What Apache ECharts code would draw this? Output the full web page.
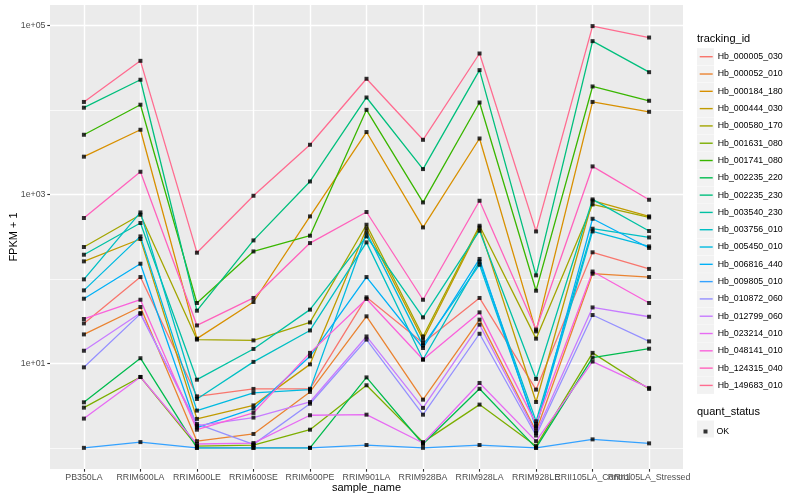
<!DOCTYPE html>
<html><head><meta charset="utf-8">
<script src="https://cdn.jsdelivr.net/npm/echarts@6/dist/echarts.min.js"></script>
<style>html,body{margin:0;padding:0;background:#fff}#c{width:800px;height:500px}</style>
</head><body><div id="c"></div>
<script>
// x categories
const categories = ['PB350LA','RRIM600LA','RRIM600LE','RRIM600SE','RRIM600PE','RRIM901LA','RRIM928BA','RRIM928LA','RRIM928LE','RRII105LA_Control','RRII105LA_Stressed'];
// legend / series names
const trackingIds = ['Hb_000005_030','Hb_000052_010','Hb_000184_180','Hb_000444_030','Hb_000580_170','Hb_001631_080','Hb_001741_080','Hb_002235_220','Hb_002235_230','Hb_003540_230','Hb_003756_010','Hb_005450_010','Hb_006816_440','Hb_009805_010','Hb_010872_060','Hb_012799_060','Hb_023214_010','Hb_048141_010','Hb_124315_040','Hb_149683_010'];
// FPKM + 1 values, one array per gene, in category order
const hb_000005_030 = [29.7, 105, 4.07, 4.98, 5.0, 60.4, 17.4, 59.4, 4.89, 206, 131];
const hb_000052_010 = [22.0, 46.4, 1.2, 1.46, 4.59, 36.0, 3.72, 32.9, 1.57, 115, 105];
const hb_000184_180 = [2790, 5810, 19.6, 53.2, 548, 5460, 406, 4580, 23.9, 12400, 9480];
const hb_000444_030 = [161, 296, 2.2, 3.18, 9.73, 392, 19.1, 406, 3.49, 840, 548];
const hb_000580_170 = [238, 574, 19.1, 18.7, 30.5, 437, 20.8, 425, 19.6, 760, 533];
const hb_001631_080 = [2.99, 6.9, 1.05, 1.08, 1.64, 5.5, 1.17, 3.25, 1.05, 13.3, 4.98];
const hb_001741_080 = [5070, 11500, 51.8, 211, 324, 10000, 802, 12200, 72.4, 18900, 12800];
const hb_002235_220 = [3.46, 11.5, 1.0, 1.0, 1.0, 6.82, 1.11, 5.0, 1.0, 11.7, 14.9];
const hb_002235_230 = [10600, 22700, 42, 285, 1420, 14000, 1990, 29500, 110, 65000, 27900];
const hb_003540_230 = [193, 458, 6.41, 14.8, 43.2, 318, 35.0, 371, 6.54, 871, 368];
const hb_003756_010 = [98.6, 611, 3.79, 10.4, 24.5, 270, 11.1, 160, 2.06, 392, 309];
const hb_005450_010 = [73.0, 318, 2.76, 4.47, 4.89, 352, 16.3, 147, 1.8, 364, 242];
const hb_006816_440 = [58.2, 151, 1.74, 2.91, 12.1, 105, 15.2, 172, 1.72, 514, 232];
const hb_009805_010 = [1.0, 1.17, 1.0, 1.0, 1.0, 1.08, 1.0, 1.08, 1.0, 1.26, 1.13];
const hb_010872_060 = [8.97, 38.5, 1.92, 1.1, 3.33, 19.1, 2.47, 22.4, 1.4, 37.3, 18.2];
const hb_012799_060 = [14.1, 39.4, 1.83, 2.28, 3.49, 20.8, 2.97, 28.7, 1.5, 45.9, 35.6];
const hb_023214_010 = [2.22, 6.9, 1.11, 1.14, 2.43, 2.47, 1.14, 5.86, 1.2, 10.5, 5.12];
const hb_048141_010 = [33.5, 56.6, 1.64, 2.59, 13.3, 57.8, 11.1, 40.1, 1.92, 122, 51.8];
const hb_124315_040 = [525, 1850, 28.1, 59.4, 265, 618, 56.6, 840, 25.1, 2140, 863];
const hb_149683_010 = [12400, 38000, 204, 962, 3860, 23300, 4420, 46400, 364, 97900, 71700];
// y axis labelled ticks and minor grid positions
const yTickValues = [10, 1000, 100000];
const yMinorValues = [1, 100, 10000];
const quantStatus = ['OK'];

const seriesValues = [hb_000005_030, hb_000052_010, hb_000184_180, hb_000444_030, hb_000580_170, hb_001631_080, hb_001741_080, hb_002235_220, hb_002235_230, hb_003540_230, hb_003756_010, hb_005450_010, hb_006816_440, hb_009805_010, hb_010872_060, hb_012799_060, hb_023214_010, hb_048141_010, hb_124315_040, hb_149683_010];
const palette = ['#F8766D','#EA8331','#D89000','#C09B00','#A3A500','#7CAE00','#39B600','#00BB4E','#00BF7D','#00C1A3','#00BFC4','#00BAE0','#00B0F6','#35A2FF','#9590FF','#C77CFF','#E76BF3','#FA62DB','#FF62BC','#FF6C90'];

const FONT = '"Liberation Sans", Arial, Helvetica, sans-serif';
const chart = echarts.init(document.getElementById('c'));

const expLabel = v => { const e = Math.round(Math.log10(v)); return '1e' + (e >= 0 ? '+' : '-') + String(Math.abs(e)).padStart(2, '0'); };
const catIdx = categories.map((c, i) => i);
const evenIdx = catIdx.filter(i => i % 2 === 0);
const oddIdx = catIdx.filter(i => i % 2 === 1);

const lineSeries = trackingIds.map((id, k) => ({
  name: id, type: 'line', xAxisIndex: 0, yAxisIndex: 0,
  data: seriesValues[k].map((v, i) => [i, v]),
  showSymbol: false, symbol: 'rect', symbolSize: 4,
  color: palette[k],
  lineStyle: { color: palette[k], width: 1.3 },
  itemStyle: { color: palette[k] },
  emphasis: { disabled: true }, z: 2, animation: false
}));
const pointData = [];
seriesValues.forEach(vals => vals.forEach((v, i) => pointData.push([i, v])));
const pointSeries = {
  name: quantStatus[0], type: 'scatter', xAxisIndex: 0, yAxisIndex: 0,
  data: pointData, symbol: 'rect', symbolSize: 4,
  itemStyle: { color: '#000000' }, emphasis: { disabled: true }, z: 3, animation: false
};

const ROW = 17.3, BOX_TOP = 48.2;
const graphics = [
  { type: 'text', left: 697, top: 33.5, style: { text: 'tracking_id', font: '11px ' + FONT, fill: '#000' }, silent: true },
  { type: 'text', left: 697, top: 406.5, style: { text: 'quant_status', font: '11px ' + FONT, fill: '#000' }, silent: true }
];
trackingIds.forEach((id, k) => graphics.push({ type: 'rect', z: -1, shape: { x: 697, y: BOX_TOP + k * ROW, width: 17, height: 17 }, style: { fill: '#F2F2F2' }, silent: true }));
graphics.push({ type: 'rect', z: -1, shape: { x: 697, y: 420.5, width: 17, height: 17 }, style: { fill: '#F2F2F2' }, silent: true });

const xLabelStyle = { formatter: v => categories[Math.round(v)], fontSize: 8.8, color: '#4D4D4D', margin: 4.5, fontFamily: FONT, hideOverlap: false, showMinLabel: true, showMaxLabel: true };

chart.setOption({
  animation: false,
  backgroundColor: '#ffffff',
  textStyle: { fontFamily: FONT },
  grid: { left: 50, top: 5, width: 633, height: 464, show: true, backgroundColor: '#EBEBEB', borderWidth: 0, containLabel: false, outerBoundsMode: 'none' },
  xAxis: [{
    type: 'value', min: -0.6, max: 10.6, position: 'bottom',
    name: 'sample_name', nameLocation: 'middle', nameGap: 13, nameMoveOverlap: false,
    nameTextStyle: { fontSize: 11, color: '#000', fontFamily: FONT },
    axisLine: { show: false, onZero: false },
    axisTick: { show: true, length: 2.7, customValues: catIdx, lineStyle: { color: '#333333', width: 1.1 } },
    axisLabel: Object.assign({ customValues: evenIdx }, xLabelStyle),
    splitLine: { show: true, lineStyle: { color: '#ffffff', width: 1.4 } },
    minorSplitLine: { show: false }
  }, {
    type: 'value', min: -0.6, max: 10.6, position: 'bottom', offset: 0,
    axisLine: { show: false, onZero: false },
    axisTick: { show: false, customValues: oddIdx },
    axisLabel: Object.assign({ customValues: oddIdx }, xLabelStyle),
    splitLine: { show: false }
  }],
  yAxis: [{
    type: 'log', logBase: 10, min: 0.562, max: 174000,
    name: 'FPKM + 1', nameLocation: 'middle', nameGap: 30.5, nameRotate: 90, nameMoveOverlap: false,
    nameTextStyle: { fontSize: 11, color: '#000', fontFamily: FONT },
    axisLine: { show: false, onZero: false },
    axisTick: { show: true, length: 2.7, customValues: yTickValues, lineStyle: { color: '#333333', width: 1.1 } },
    axisLabel: { customValues: yTickValues, formatter: expLabel, fontSize: 8.8, color: '#4D4D4D', margin: 4.5, fontFamily: FONT, showMinLabel: true, showMaxLabel: true },
    splitLine: { show: true, lineStyle: { color: '#ffffff', width: 1.4 } }
  }, {
    type: 'log', logBase: 10, min: 0.562, max: 174000, position: 'left', offset: 0,
    axisLine: { show: false, onZero: false },
    axisTick: { show: false, customValues: yMinorValues },
    axisLabel: { show: false, customValues: yMinorValues },
    splitLine: { show: true, lineStyle: { color: '#ffffff', width: 0.7 } }
  }],
  legend: [{
    data: trackingIds, orient: 'vertical', left: 699, top: 49.8, padding: 0,
    itemWidth: 13, itemHeight: ROW, itemGap: ROW * 0.2,
    itemStyle: { opacity: 0 }, lineStyle: { width: 1.4 },
    textStyle: { fontSize: 8.8, color: '#000', fontFamily: FONT },
    selectedMode: false
  }, {
    data: quantStatus, orient: 'vertical', left: 703.5, top: 427, padding: 0,
    icon: 'rect', itemWidth: 4, itemHeight: 4, itemGap: 0,
    textStyle: { fontSize: 8.8, color: '#000', fontFamily: FONT, padding: [0, 0, 0, 4] },
    selectedMode: false
  }],
  graphic: graphics,
  series: lineSeries.concat([pointSeries])
});
</script></body></html>
